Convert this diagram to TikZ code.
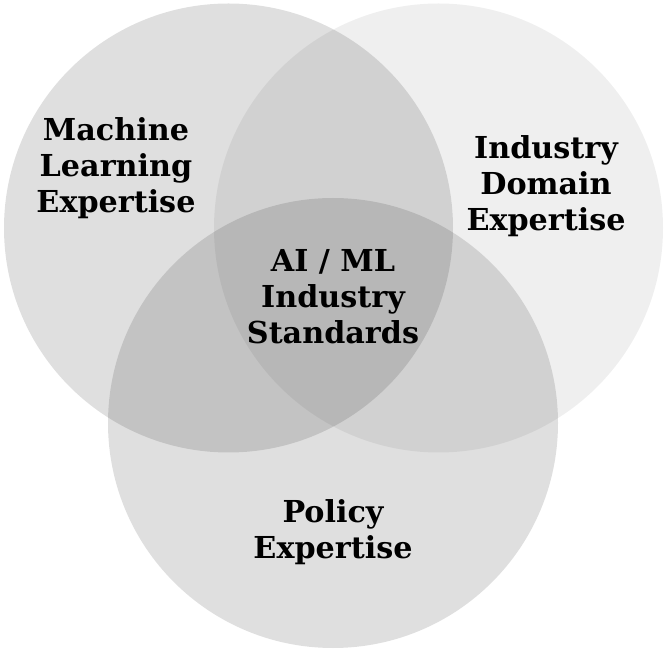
\documentclass[tikz,border=0pt]{standalone}
\usepackage{fontspec}
\setmainfont{DejaVu Serif}
\usepackage{tikz}
\usetikzlibrary{calc}

\tikzset{
	setcircle/.style={fill=black, fill opacity=0.125},
	lightcircle/.style={fill=black, fill opacity=0.062},
	setlabel/.style={align=center, text=black, font=\bfseries\fontsize{17.2}{20.5}\selectfont}
}

\begin{document}
\begin{tikzpicture}[x=0.02cm, y=-0.02cm]
	\useasboundingbox (0,0) rectangle (666,651);

	\fill[setcircle] (228.5,228) circle (224.5);
	\fill[lightcircle] (438.5,228) circle (224.5);
	\fill[setcircle] (333,423) circle (225);

	\node[setlabel] (ml) at (116,168) {Machine\\Learning\\Expertise};
	\node[setlabel] (domain) at (546,186) {Industry\\Domain\\Expertise};
	\node[setlabel] (policy) at (333,532) {Policy\\Expertise};
	\node[setlabel] (standards) at (333,297) {AI / ML\\Industry\\Standards};
\end{tikzpicture}
\end{document}
